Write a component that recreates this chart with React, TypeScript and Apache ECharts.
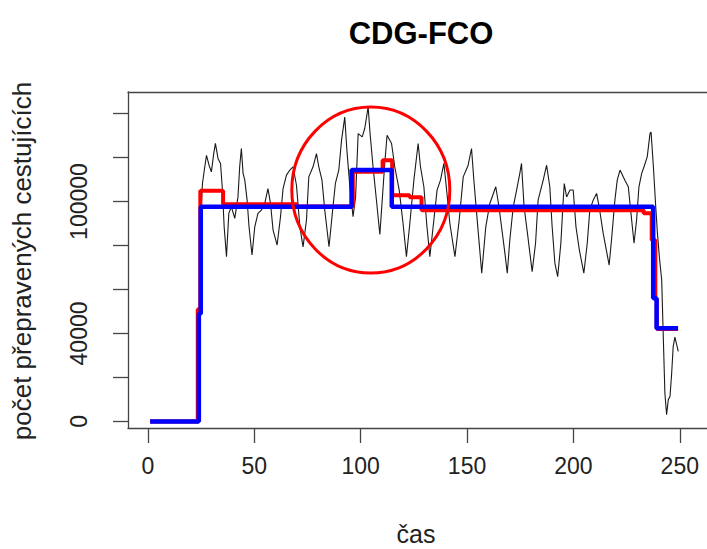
import React, { useEffect, useRef } from "react";
import * as echarts from "echarts";

const chartTitle = "CDG-FCO";
const xAxisTitle = "čas";
const yAxisTitle = "počet přepravených cestujících";

const xTicks = [0, 50, 100, 150, 200, 250];
const yTicks = [0, 20000, 40000, 60000, 80000, 100000, 120000, 140000];
const yTickLabels = [0, 40000, 100000];

// observed series (time, passengers)
const blackPoints: [number, number][] = [
  [25.2, 100000], [25.6, 108200], [26.7, 115800], [27.5, 121000], [28.7, 116500], [29.8, 113500],
  [30.9, 121800], [31.7, 126400], [32.9, 119600], [34.1, 117300], [35.0, 105200], [35.8, 88500],
  [36.9, 74900], [38.0, 94600], [39.2, 97600], [40.8, 92300], [42.3, 102100], [43.1, 115800],
  [43.9, 124100], [44.7, 112800], [45.5, 109700], [46.6, 100600], [47.5, 88500], [48.9, 75700],
  [50.2, 88500], [51.7, 94600], [53.3, 96100], [54.9, 99100], [56.4, 105900], [57.6, 99100],
  [58.8, 87000], [60.7, 80200], [62.3, 93100], [63.5, 105900], [65.1, 112000], [66.7, 114300],
  [68.2, 115800], [69.8, 107400], [71.4, 88500], [72.9, 79400], [74.5, 91600], [75.6, 111200],
  [77.6, 115800], [79.2, 121800], [80.3, 115800], [81.8, 109700], [83.1, 96100], [85.1, 79400],
  [86.5, 93100], [88.1, 108200], [89.7, 114300], [91.0, 127900], [92.5, 138400], [93.5, 123300],
  [94.9, 106700], [96.4, 93100], [97.6, 102100], [98.8, 130900], [100.7, 129400], [101.9, 133200],
  [103.5, 143000], [104.4, 130900], [105.8, 115800], [107.4, 100600], [109.0, 85000], [111.3, 117300],
  [112.4, 130100], [114.5, 126400], [116.0, 115800], [118.1, 105200], [119.9, 90100], [121.5, 74900],
  [123.1, 90100], [125.0, 109700], [127.0, 126400], [128.1, 115800], [129.7, 106700], [131.0, 90100],
  [132.5, 74900], [134.4, 91600], [135.9, 105200], [137.5, 109700], [139.1, 117300], [140.4, 105200],
  [141.9, 90100], [144.3, 74900], [146.3, 91600], [148.2, 111200], [150.5, 116500], [152.1, 124100],
  [153.2, 109700], [154.5, 94600], [156.9, 67400], [158.8, 88500], [160.7, 99100], [163.5, 106700],
  [165.0, 97600], [167.8, 76400], [168.9, 67400], [170.1, 82500], [171.7, 97600], [173.3, 105200],
  [174.8, 112800], [175.6, 117300], [176.8, 97600], [178.4, 85500], [180.6, 68100], [182.2, 81000],
  [183.4, 100600], [185.8, 109700], [187.4, 116500], [188.9, 106700], [190.0, 88500], [191.3, 71900],
  [192.6, 65800], [194.1, 81000], [195.2, 100600], [195.7, 108200], [196.8, 102100], [198.4, 105200],
  [199.9, 105200], [201.2, 88500], [202.8, 77900], [204.9, 67400], [206.5, 81000], [207.7, 96100],
  [209.3, 100600], [210.9, 103700], [212.1, 97600], [214.0, 85500], [216.8, 71100], [217.9, 82500],
  [219.5, 100600], [220.6, 109700], [221.9, 114300], [224.2, 109700], [225.8, 106700], [226.9, 96100],
  [228.5, 81000], [229.7, 91600], [230.8, 106700], [232.1, 112800], [233.2, 115800], [234.7, 120300],
  [236.0, 130900], [236.5, 131600], [237.6, 115800], [238.7, 97600], [239.5, 85500], [240.4, 74900],
  [241.5, 64300], [242.2, 40100], [243.0, 12900], [243.8, 3000], [244.6, 9900], [245.4, 11300],
  [246.2, 22000], [246.9, 34000], [247.7, 38300], [249.3, 31800],
];

// red step estimate: segment start times and levels
const redStarts = [1, 23.4, 24.6, 35.3, 70, 96.3, 110.3, 114.8, 123, 128.6, 233, 236.8, 238.5, 239.2];
const redLevels = [0, 51000, 104900, 98800, 97700, 113500, 118800, 102900, 101900, 96000, 94700, 82500, 55700, 42000];
const redEnd = 249.2;

// blue step estimate
const blueStarts = [1, 23.9, 24.8, 95.7, 114.6, 237.5, 239.1];
const blueLevels = [0, 49000, 97600, 114300, 97600, 56000, 42400];
const blueEnd = 249.2;

// highlight ellipse (data-space centre, pixel radii)
const circleCenter: [number, number] = [104.75, 105200];
const circleRx = 79;
const circleRy = 83;

const FONT = '"Liberation Sans", Arial, sans-serif';

function stepPoints(starts: number[], levels: number[], end: number): [number, number][] {
  const pts: [number, number][] = [];
  for (let i = 0; i < starts.length; i++) {
    const next = i + 1 < starts.length ? starts[i + 1] : end;
    pts.push([starts[i], levels[i]]);
    pts.push([next, levels[i]]);
  }
  return pts;
}

export default function App() {
  const ref = useRef<HTMLDivElement>(null);
  useEffect(() => {
    if (!ref.current) return;
    const chart = echarts.init(ref.current, undefined, { renderer: "svg" });
    const boxLine = { color: "#444", width: 1.3 };
    const X_MIN = -9.4;
    const X_MAX = 262.8;
    chart.setOption({
      animation: false,
      backgroundColor: "#fff",
      grid: {
        left: 128,
        top: 92,
        right: 0,
        bottom: 121,
        show: false,
      },
      xAxis: [
        {
          type: "value",
          position: "bottom",
          min: X_MIN,
          max: X_MAX,
          axisLine: { show: true, onZero: false, lineStyle: boxLine },
          splitLine: { show: false },
          axisTick: { show: true, customValues: xTicks, length: 15, inside: false, lineStyle: boxLine },
          axisLabel: {
            customValues: xTicks,
            margin: 26,
            fontSize: 23,
            color: "#222",
            fontFamily: FONT,
            formatter: (v: number) => String(v),
          },
        },
        {
          type: "value",
          position: "top",
          min: X_MIN,
          max: X_MAX,
          axisLine: { show: true, onZero: false, lineStyle: boxLine },
          splitLine: { show: false },
          axisTick: { show: false },
          axisLabel: { show: false },
        },
      ],
      yAxis: {
        type: "value",
        min: -3000,
        max: 149800,
        axisLine: { show: true, onZero: false, lineStyle: boxLine },
        splitLine: { show: false },
        axisTick: { show: true, customValues: yTicks, length: 15, inside: false, lineStyle: boxLine },
        axisLabel: {
          customValues: yTickLabels,
          rotate: 90,
          margin: 38,
          fontSize: 23,
          color: "#222",
          fontFamily: FONT,
          formatter: (v: number) => String(v),
        },
      },
      series: [
        {
          type: "line",
          data: blackPoints,
          symbol: "none",
          lineStyle: { color: "#1a1a1a", width: 1.1 },
          z: 1,
        },
        {
          type: "line",
          data: stepPoints(redStarts, redLevels, redEnd),
          symbol: "none",
          lineStyle: { color: "#ff0000", width: 4 },
          z: 2,
        },
        {
          type: "line",
          data: stepPoints(blueStarts, blueLevels, blueEnd),
          symbol: "none",
          lineStyle: { color: "#0000ff", width: 4.5 },
          z: 3,
        },
      ],
    });
    const c = chart.convertToPixel({ xAxisIndex: 0, yAxisIndex: 0 }, circleCenter) as number[];
    chart.setOption({
      graphic: [
        {
          type: "text",
          x: 421,
          y: 33,
          style: {
            text: chartTitle,
            fontSize: 31,
            fontWeight: "bold",
            fontFamily: FONT,
            fill: "#000",
            align: "center",
            verticalAlign: "middle",
          },
        },
        {
          type: "text",
          x: 416,
          y: 534,
          style: {
            text: xAxisTitle,
            fontSize: 25,
            fontFamily: FONT,
            fill: "#222",
            align: "center",
            verticalAlign: "middle",
          },
        },
        {
          type: "text",
          x: 22,
          y: 261,
          rotation: Math.PI / 2,
          style: {
            text: yAxisTitle,
            fontSize: 26,
            fontFamily: FONT,
            fill: "#222",
            align: "center",
            verticalAlign: "middle",
          },
        },
        {
          type: "ellipse",
          shape: { cx: c[0], cy: c[1], rx: circleRx, ry: circleRy },
          style: { fill: "none", stroke: "#ff0000", lineWidth: 3 },
          z: 10,
        },
      ],
    });
    return () => chart.dispose();
  }, []);
  return (
    <div
      ref={ref}
      style={{ position: "fixed", left: 0, top: 0, width: 707, height: 549, background: "#fff" }}
    />
  );
}
